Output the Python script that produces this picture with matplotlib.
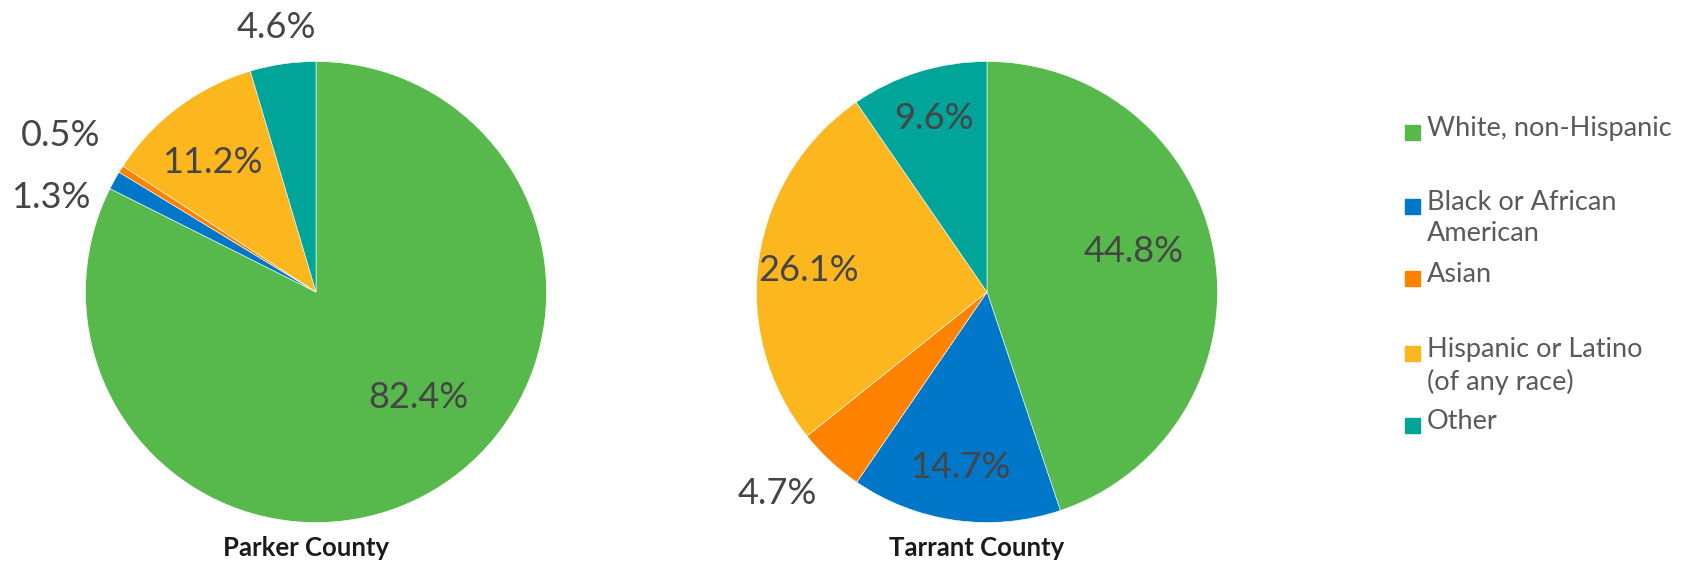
import matplotlib
matplotlib.use('Agg')
import matplotlib.pyplot as plt
import numpy as np
from matplotlib.patches import Rectangle

plt.rcParams['font.family'] = ['Lato', 'DejaVu Sans']

# data
groups = ['White, non-Hispanic', 'Black or African\nAmerican', 'Asian',
          'Hispanic or Latino\n(of any race)', 'Other']
colors = ['#57B84B', '#0077C8', '#FF8200', '#FDB71E', '#00A499']
parker = [82.4, 1.3, 0.5, 11.2, 4.6]
tarrant = [44.8, 14.7, 4.7, 26.1, 9.6]
counties = ['Parker County', 'Tarrant County']

# label placement (angle deg, distance as fraction of radius)
parker_lbl = [(-45.9, 0.64), (160.4, 1.22), (148.5, 1.30), (128.7, 0.72), (98.6, 1.16)]
tarrant_lbl = [(15.3, 0.66), (-98.8, 0.77), (-136.1, 1.26), (173.1, 0.78), (107.0, 0.785)]

W, H = 1691, 564
fig = plt.figure(figsize=(W / 100, H / 100), dpi=100)

r = 230.5
centers = [(316, 292), (987, 292)]
for (cx, cy), vals, lbls, name in zip(centers, [parker, tarrant],
                                      [parker_lbl, tarrant_lbl], counties):
    ax = fig.add_axes([(cx - r) / W, (H - cy - r) / H, 2 * r / W, 2 * r / H])
    ax.pie(vals, colors=colors, startangle=90, counterclock=False,
           wedgeprops=dict(edgecolor='white', linewidth=0.4))
    ax.set_xlim(-1, 1)
    ax.set_ylim(-1, 1)
    ax.axis('off')
    for v, (ang, d) in zip(vals, lbls):
        a = np.deg2rad(ang)
        ax.text(d * np.cos(a), d * np.sin(a), '{:.1f}%'.format(v),
                ha='center', va='center', fontsize=26, color='#454545',
                clip_on=False)
    fig.text((cx - 10) / W, 1 - 548 / H, name, ha='center', va='center',
             fontsize=18.5, fontweight='bold', color='#1a1a1a')

# legend
ys = [132, 206, 278, 353, 425]
for y, g, c in zip(ys, groups, colors):
    fig.patches.append(Rectangle((1405 / W, 1 - (y + 7.5) / H), 15 / W, 15 / H,
                                 transform=fig.transFigure, color=c))
    fig.text(1427 / W, 1 - (y - 16) / H, g, ha='left', va='top', fontsize=19.5,
             color='#5a5a5a', linespacing=1.32)

fig.savefig('out.png', dpi=100)
